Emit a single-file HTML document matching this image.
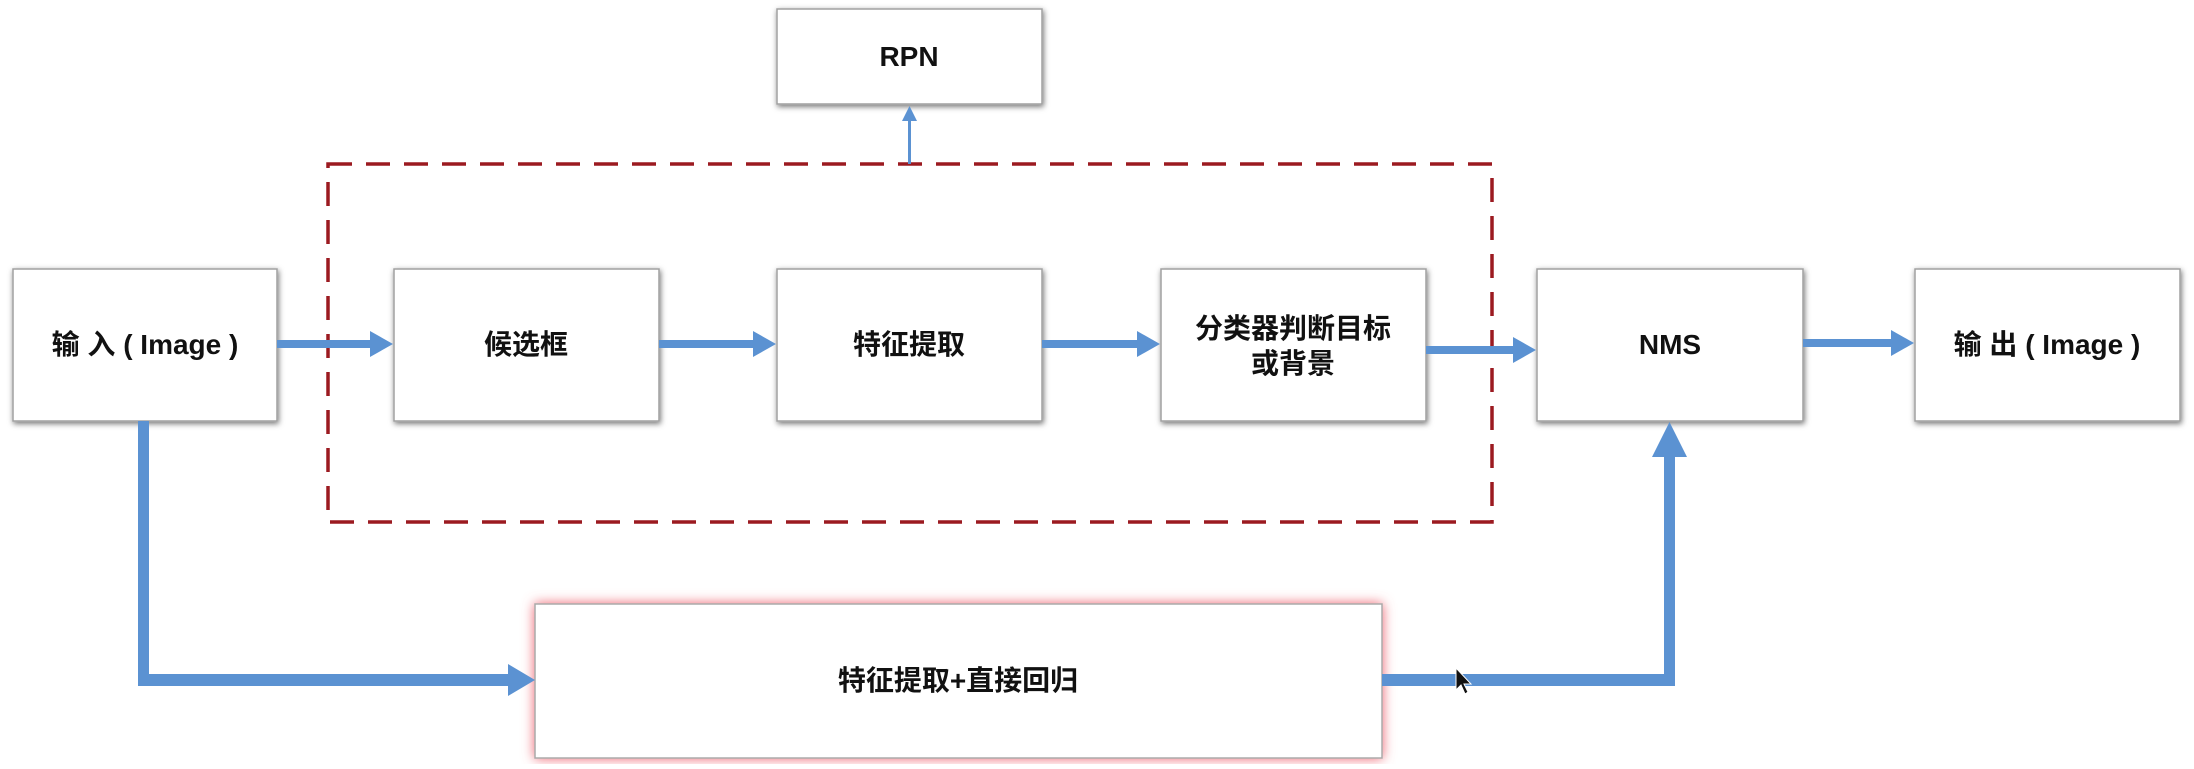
<!DOCTYPE html>
<html><head><meta charset="utf-8"><style>
html,body{margin:0;padding:0;background:#fff;}
svg text{font-family:"Liberation Sans","Noto Sans CJK SC",sans-serif;font-weight:bold;fill:#111;}
</style></head><body>
<svg width="2194" height="764" viewBox="0 0 2194 764" xmlns="http://www.w3.org/2000/svg">
<defs>
<filter id="sh" x="-10%" y="-10%" width="120%" height="120%"><feDropShadow dx="1" dy="2" stdDeviation="3" flood-color="#000" flood-opacity="0.55"/></filter>
<filter id="rg" x="-10%" y="-20%" width="120%" height="140%"><feDropShadow dx="0" dy="0" stdDeviation="6" flood-color="#ee6470" flood-opacity="1"/></filter>
</defs>
<rect x="328" y="164" width="1164" height="358" fill="none" stroke="#9b1a20" stroke-width="3.5" stroke-dasharray="24,14"/>
<g fill="#fff" stroke="#a0a0a0" stroke-width="1.5" filter="url(#sh)">
<rect x="13" y="269" width="264" height="152"/>
<rect x="394" y="269" width="265" height="152"/>
<rect x="777" y="269" width="265" height="152"/>
<rect x="777" y="9" width="265" height="95"/>
<rect x="1161" y="269" width="265" height="152"/>
<rect x="1537" y="269" width="266" height="152"/>
<rect x="1915" y="269" width="265" height="152"/>
</g>
<rect x="535" y="604" width="847" height="154" fill="#fff" stroke="#aaa" stroke-width="1.5" filter="url(#rg)"/>
<g fill="#5b92d2" stroke="none">
<rect x="277" y="340" width="95" height="8"/><polygon points="370,331 393,344 370,357"/>
<rect x="659" y="340" width="96" height="8"/><polygon points="753,331 776,344 753,357"/>
<rect x="1042" y="340" width="97" height="8"/><polygon points="1137,331 1160,344 1137,357"/>
<rect x="1426" y="346" width="89" height="8"/><polygon points="1513,337 1536,350 1513,363"/>
<rect x="1803" y="339" width="90" height="8"/><polygon points="1891,330 1914,343 1891,356"/>
<rect x="908" y="120" width="3" height="44"/><polygon points="902,121 909.5,106 917,121"/>
<rect x="138" y="421" width="11" height="265"/>
<rect x="138" y="674" width="372" height="12"/>
<polygon points="508,664 535,680 508,696"/>
<rect x="1382" y="674" width="293" height="12"/>
<rect x="1664" y="455" width="11" height="231"/>
<polygon points="1652,457 1669.5,422 1687,457"/>
</g>
<polygon points="1456,668 1456,690 1461,685 1465,694 1468,692 1464,684 1471,684" fill="#111" stroke="#fff" stroke-width="1"/>
<g font-size="28" text-anchor="middle">
<text x="145" y="354">输 入 ( Image )</text>
<text x="526" y="354">候选框</text>
<text x="909" y="354">特征提取</text>
<text x="909" y="66">RPN</text>
<text x="1293" y="338">分类器判断目标</text>
<text x="1293" y="373">或背景</text>
<text x="1670" y="354">NMS</text>
<text x="2047" y="354">输 出 ( Image )</text>
<text x="958" y="690">特征提取+直接回归</text>
</g>
</svg>
</body></html>
